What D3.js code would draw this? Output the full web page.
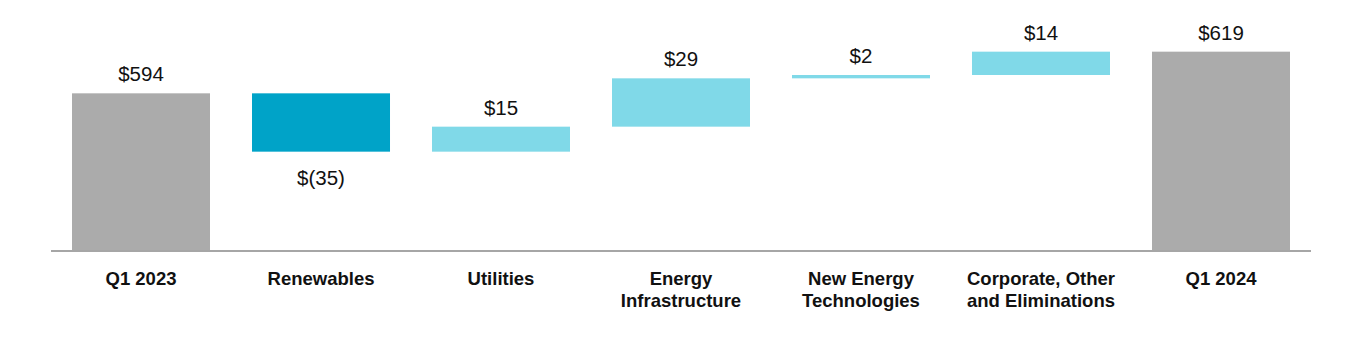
<!DOCTYPE html>
<html>
<head>
<meta charset="utf-8">
<script src="https://cdn.jsdelivr.net/npm/d3@7"></script>
<style>
  body { margin: 0; background: #fff; }
  text { font-family: Arial, "Liberation Sans", sans-serif; }
  .valueLabel { font-size: 20.5px; fill: #111; }
  .catLabel { font-size: 18.5px; font-weight: bold; fill: #111; }
</style>
</head>
<body>
<div id="chart"></div>
<script>
'use strict';

// Data
const categories = ['Q1 2023', 'Renewables', 'Utilities', 'Energy Infrastructure',
    'New Energy Technologies', 'Corporate, Other and Eliminations', 'Q1 2024'];
const categoryLines = [['Q1 2023'], ['Renewables'], ['Utilities'], ['Energy', 'Infrastructure'],
    ['New Energy', 'Technologies'], ['Corporate, Other', 'and Eliminations'], ['Q1 2024']];
const values = [594, -35, 15, 29, 2, 14, 619];
const isTotal = [true, false, false, false, false, false, true];

// Config
const svgW = 1360;
const svgH = 350;
const baseY = 250;
const colors = {total: '#ababab', down: '#00a3c8', up: '#80d9e8'};

// Build waterfall steps
let running = 0;
const steps = categories.map((c, i) => {
    let start, end;
    if (isTotal[i]) {
        start = 500;
        end = values[i];
        running = values[i];
    } else {
        start = running;
        end = running + values[i];
        running = end;
    }
    return {cat: c, lines: categoryLines[i], value: values[i], total: isTotal[i], start, end};
});

// Scales
const x = d3.scaleBand()
    .domain(categories)
    .range([51, 1311])
    .paddingInner(0.2333)
    .paddingOuter(0.1167);
const y = d3.scaleLinear()
    .domain([500, 650])
    .range([baseY, 0]);

const svg = d3.select('#chart')
    .append('svg')
    .attr('width', svgW)
    .attr('height', svgH);

// Bars
svg.selectAll('.bar')
    .data(steps)
    .join('rect')
    .attr('class', 'bar')
    .attr('x', d => x(d.cat))
    .attr('width', x.bandwidth())
    .attr('y', d => y(Math.max(d.start, d.end)))
    .attr('height', d => Math.max(1, Math.abs(y(d.start) - y(d.end))))
    .attr('fill', d => d.total ? colors.total : (d.value < 0 ? colors.down : colors.up));

// Baseline
svg.append('line')
    .attr('x1', 51)
    .attr('x2', 1311)
    .attr('y1', baseY + 1)
    .attr('y2', baseY + 1)
    .attr('stroke', '#a6a6a6')
    .attr('stroke-width', 2);

// Value labels
const fmt = d => d.value < 0 ? `$(${Math.abs(d.value)})` : `$${d.value}`;
svg.selectAll('.valueLabel')
    .data(steps)
    .join('text')
    .attr('class', 'valueLabel')
    .attr('text-anchor', 'middle')
    .attr('x', d => x(d.cat) + x.bandwidth() / 2)
    .attr('y', d => d.value < 0 ? y(Math.min(d.start, d.end)) + 33 : y(Math.max(d.start, d.end)) - 12)
    .text(fmt);

// Category labels
svg.selectAll('.catLabel')
    .data(steps)
    .join('text')
    .attr('class', 'catLabel')
    .attr('text-anchor', 'middle')
    .attr('x', d => x(d.cat) + x.bandwidth() / 2)
    .attr('y', 285)
    .each(function(d) {
        d3.select(this).selectAll('tspan')
            .data(d.lines)
            .join('tspan')
            .attr('x', x(d.cat) + x.bandwidth() / 2)
            .attr('dy', (l, i) => i === 0 ? 0 : 22)
            .text(l => l);
    });
</script>
</body>
</html>
